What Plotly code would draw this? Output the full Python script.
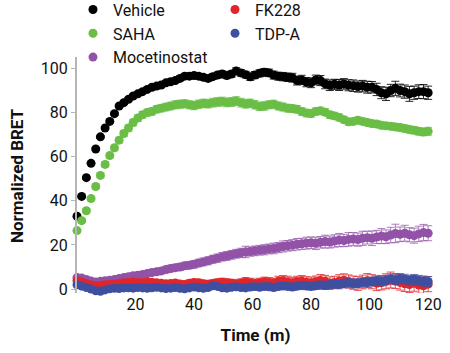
import plotly.graph_objects as go

# time points (minutes), one reading every 1.6 min
time_min = [0, 1.6, 3.2, 4.8, 6.4, 8, 9.6, 11.2, 12.8, 14.4,
            16, 17.6, 19.2, 20.8, 22.4, 24, 25.6, 27.2, 28.8, 30.4,
            32, 33.6, 35.2, 36.8, 38.4, 40, 41.6, 43.2, 44.8, 46.4,
            48, 49.6, 51.2, 52.8, 54.4, 56, 57.6, 59.2, 60.8, 62.4,
            64, 65.6, 67.2, 68.8, 70.4, 72, 73.6, 75.2, 76.8, 78.4,
            80, 81.6, 83.2, 84.8, 86.4, 88, 89.6, 91.2, 92.8, 94.4,
            96, 97.6, 99.2, 100.8, 102.4, 104, 105.6, 107.2, 108.8, 110.4,
            112, 113.6, 115.2, 116.8, 118.4, 120]

vehicle = [33, 42, 50.5, 57, 63.5, 69, 73, 76, 79.5, 83,
           84.5, 86, 87.5, 88.5, 89.5, 90.5, 91.5, 92, 92.5, 93.5,
           94, 94.5, 95.5, 96.5, 96.5, 96.8, 96.5, 96, 95.5, 96.3,
           97, 97.5, 96.8, 97.5, 98.8, 98, 97.2, 96.2, 97, 97.8,
           98.3, 98, 97, 96.5, 96.3, 96, 95.8, 94.5, 94.8, 93.8,
           93.5, 94.8, 94.5, 93, 92.4, 92.8, 92.5, 93, 92.4, 92.2,
           91.8, 92, 91.5, 91.5, 90.5, 89, 88.5, 90, 91, 90,
           89.5, 88.5, 89, 89.5, 89.5, 89]
vehicle_err = [0.4, 0.4, 0.5, 0.5, 0.5, 0.6, 0.6, 0.6, 0.7, 0.7,
               0.7, 0.8, 0.8, 0.8, 0.8, 0.9, 0.9, 0.9, 1.0, 1.0,
               1.0, 1.0, 1.1, 1.1, 1.1, 1.2, 1.2, 1.2, 1.3, 1.3,
               1.3, 1.4, 1.4, 1.4, 1.5, 1.5, 1.5, 1.6, 1.6, 1.6,
               1.7, 1.7, 1.8, 1.8, 1.9, 1.9, 2.0, 2.0, 2.1, 2.1,
               2.2, 2.2, 2.3, 2.2, 2.4, 2.3, 2.5, 2.4, 2.5, 2.6,
               2.5, 2.6, 2.7, 2.6, 2.8, 2.7, 3.0, 2.8, 3.2, 2.9,
               3.0, 3.4, 3.0, 3.1, 3.2, 3.0]

saha = [26.5, 31, 35.5, 41, 46.5, 51.5, 56.5, 60.5, 64, 67.5,
        70.5, 73, 75.5, 77.5, 79, 80, 80.5, 81.5, 82, 82.5,
        83, 83.5, 83.8, 84, 83.5, 83.2, 83.8, 84.2, 84, 84.5,
        84.8, 85, 84.6, 84.8, 85.2, 84.5, 84, 84.2, 83.5, 82.8,
        83, 83.5, 83.8, 83, 82.5, 82, 81.8, 81.5, 80.5, 79.8,
        79.6, 80.5, 80.8, 80.2, 79, 78.5, 77.8, 76.8, 75.8, 76,
        76.5, 76, 75.5, 75, 74.8, 74.2, 74, 73.8, 73.5, 73.2,
        72.8, 72.3, 72, 71.5, 71.2, 71.5]
saha_err = [0.8, 0.9, 1.0, 1.0, 1.1, 1.1, 1.2, 1.2, 1.3, 1.3,
            1.4, 1.4, 1.5, 1.5, 1.5, 1.6, 1.6, 1.6, 1.7, 1.7,
            1.7, 1.8, 1.8, 1.8, 1.8, 1.9, 1.9, 1.9, 1.9, 2.0,
            2.0, 2.0, 2.0, 2.0, 2.0, 2.0, 2.0, 1.9, 1.9, 1.9,
            1.9, 1.8, 1.8, 1.8, 1.8, 1.8, 1.7, 1.7, 1.7, 1.7,
            1.7, 1.6, 1.6, 1.6, 1.6, 1.6, 1.6, 1.5, 1.5, 1.5,
            1.5, 1.5, 1.5, 1.5, 1.5, 1.5, 1.5, 1.5, 1.6, 1.6,
            1.6, 1.6, 1.7, 1.7, 1.7, 1.8]

mocetinostat = [5.2, 5, 4.3, 3.6, 3.2, 3.5, 3.8, 4, 4.3, 4.8,
                5.2, 5.6, 6, 6.3, 6.6, 7, 7.5, 7.8, 8.2, 8.8,
                9.3, 9.7, 10, 10.5, 10.8, 11.2, 11.8, 12.3, 12.8, 13.5,
                14, 14.6, 15, 15.5, 16, 16.4, 16.8, 17, 17.3, 17.6,
                17.8, 18.2, 18.4, 18.8, 19.3, 19.6, 19.9, 20.3, 20.5, 20.8,
                21, 20.7, 21.2, 21.5, 21.3, 21.8, 22.2, 22, 22.5, 22.7,
                22.4, 23, 23.3, 23, 23.6, 24, 23.7, 24.5, 25.2, 24.8,
                25.3, 24.6, 24.2, 25, 25.6, 25.3]
mocetinostat_err = [0.8, 0.8, 0.8, 0.9, 0.9, 0.9, 1.0, 1.0, 1.0, 1.1,
                    1.1, 1.2, 1.2, 1.2, 1.3, 1.3, 1.4, 1.4, 1.4, 1.5,
                    1.5, 1.5, 1.6, 1.6, 1.6, 1.7, 1.7, 1.8, 1.8, 1.8,
                    1.9, 1.9, 2.0, 2.0, 2.0, 2.1, 2.6, 2.1, 2.2, 2.2,
                    2.3, 2.2, 2.4, 2.3, 2.5, 2.4, 2.5, 2.6, 2.5, 2.7,
                    2.6, 2.8, 2.6, 2.9, 2.7, 2.8, 3.0, 2.8, 3.1, 2.9,
                    3.0, 3.2, 2.9, 3.3, 3.0, 3.4, 3.1, 3.5, 4.2, 3.3,
                    3.6, 3.2, 3.4, 3.5, 3.7, 3.4]

fk228 = [3.8, 3.2, 2.5, 1.8, 1.5, 1.6, 1.9, 2.0, 2.2, 2.5,
         2.8, 3.0, 3.2, 3.0, 2.9, 3.3, 3.1, 2.8, 2.6, 2.4,
         2.5, 2.7, 2.3, 2.0, 2.6, 3.0, 2.8, 2.4, 2.2, 2.5,
         2.9, 3.1, 2.8, 2.6, 2.3, 2.7, 3.2, 2.9, 2.5, 2.8,
         3.3, 3.0, 2.7, 3.5, 3.8, 3.2, 2.9, 3.4, 3.6, 3.1,
         2.8, 3.3, 3.9, 3.5, 2.7, 3.0, 3.6, 4.0, 3.4, 2.9,
         2.5, 3.2, 3.8, 3.3, 2.6, 2.9, 3.5, 4.1, 3.6, 3.0,
         2.4, 2.0, 2.6, 1.8, 1.5, 2.2]
fk228_err = [0.6, 0.6, 0.6, 0.7, 0.7, 0.7, 0.8, 0.8, 0.8, 0.9,
             0.9, 1.0, 1.0, 1.0, 1.1, 1.1, 1.2, 1.2, 1.2, 1.3,
             1.3, 1.4, 1.4, 1.4, 1.5, 1.5, 1.6, 1.6, 1.6, 1.7,
             1.7, 1.8, 1.8, 1.8, 1.9, 1.9, 2.0, 2.0, 2.0, 2.1,
             2.1, 2.2, 2.2, 2.3, 2.3, 2.6, 2.4, 2.4, 2.5, 2.5,
             2.6, 2.6, 2.7, 2.7, 2.8, 2.8, 2.9, 2.9, 3.0, 3.0,
             3.1, 3.1, 3.2, 3.2, 3.3, 3.3, 3.4, 3.6, 3.4, 3.5,
             3.5, 3.6, 3.6, 3.7, 3.5, 3.4]

tdpa = [1.9, 1.3, 0.7, 0.0, -0.8, -1.0, -0.4, 0.1, 0.3, 0.2,
        0.5, 0.6, 0.4, 0.7, 0.5, 0.3, 0.6, 0.8, 0.5, 0.2,
        0.4, 0.7, 0.3, 0.1, 0.5, 0.9, 0.6, 0.3, 0.7, 1.5,
        1.2, 0.6, 0.4, 0.8, 1.0, 0.7, 0.5, 0.9, 1.1, 0.8,
        1.2, 1.0, 0.7, 1.1, 1.4, 1.2, 0.9, 1.3, 1.6, 1.4,
        1.2, 1.5, 1.8, 1.6, 1.9, 2.3, 2.0, 2.5, 2.8, 2.4,
        2.7, 3.1, 2.9, 3.4, 3.8, 3.5, 4.0, 4.6, 4.2, 4.8,
        4.5, 4.0, 4.3, 3.9, 3.6, 3.4]
tdpa_err = [0.5, 0.5, 0.5, 0.5, 0.6, 0.6, 0.6, 0.6, 0.7, 0.7,
            0.7, 0.7, 0.8, 0.8, 0.8, 0.8, 0.9, 0.9, 0.9, 0.9,
            1.0, 1.0, 1.0, 1.0, 1.1, 1.1, 1.1, 1.1, 1.2, 1.2,
            1.2, 1.2, 1.3, 1.3, 1.3, 1.3, 1.4, 1.4, 1.4, 1.4,
            1.5, 1.5, 1.5, 1.5, 1.6, 1.6, 1.6, 1.6, 1.7, 1.7,
            1.7, 1.7, 1.8, 1.8, 1.8, 1.8, 1.9, 1.9, 1.9, 1.9,
            2.0, 2.0, 2.0, 2.0, 2.1, 2.1, 2.1, 2.1, 2.2, 2.2,
            2.2, 2.2, 2.3, 2.3, 2.3, 2.3]

series = [
    # name, values, errors, colour, error colour, legend
    ("Vehicle", vehicle, vehicle_err, "#000000", "rgba(0,0,0,0.85)", "legend"),
    ("SAHA", saha, saha_err, "#6abd45", "rgba(106,189,69,0.75)", "legend"),
    ("Mocetinostat", mocetinostat, mocetinostat_err, "#9152a7", "rgba(145,82,167,0.75)", "legend"),
    ("FK228", fk228, fk228_err, "#e0262a", "rgba(224,38,42,0.8)", "legend2"),
    ("TDP-A", tdpa, tdpa_err, "#3f4fa0", "rgba(63,79,160,0.75)", "legend2"),
]

fig = go.Figure()
for rank, (name, vals, errs, col, ecol, leg) in enumerate(series):
    assert len(vals) == len(time_min) == len(errs), name
    fig.add_trace(go.Scatter(
        x=time_min, y=vals, name=name, mode="markers",
        marker=dict(size=9, color=col, line=dict(width=0)),
        error_y=dict(type="data", array=errs, visible=True,
                     color=ecol, thickness=1, width=4),
        legend=leg, legendrank=rank, cliponaxis=False,
    ))

font_main = "Roboto, 'Noto Sans', Arial, sans-serif"

fig.update_layout(
    width=450, height=353,
    margin=dict(l=77, r=16, t=57, b=60, autoexpand=False),
    paper_bgcolor="white", plot_bgcolor="white",
    font=dict(family=font_main, size=16, color="#111111"),
    showlegend=True,
    legend=dict(xref="container", yref="paper", x=73/450, y=1.273,
                xanchor="left", yanchor="top", orientation="v",
                font=dict(size=16, color="#111111"), bgcolor="rgba(0,0,0,0)",
                itemwidth=30, tracegroupgap=0),
    legend2=dict(xref="container", yref="paper", x=215/450, y=1.273,
                 xanchor="left", yanchor="top", orientation="v",
                 font=dict(size=16, color="#111111"), bgcolor="rgba(0,0,0,0)",
                 itemwidth=30, tracegroupgap=0),
    xaxis=dict(range=[0, 122], tickvals=[20, 40, 60, 80, 100, 120],
               showline=False, showgrid=False, zeroline=False, automargin=False,
               ticks="",
               tickfont=dict(size=16, color="#111111"),
               title=dict(text="<b>Time (m)</b>", font=dict(size=17), standoff=16)),
    yaxis=dict(range=[-1.8, 105.2], tickvals=[0, 20, 40, 60, 80, 100],
               showline=True, linecolor="#b5b5b5", linewidth=2,
               showgrid=False, zeroline=False, automargin=False,
               ticks="outside", ticklen=4, tickcolor="#b5b5b5", tickwidth=1,
               tickfont=dict(size=16, color="#111111")),
    annotations=[dict(text="<b>Normalized BRET</b>", textangle=-90,
                      xref="paper", yref="paper", x=(17 - 77) / 357, y=0.5,
                      xanchor="center", yanchor="middle", showarrow=False,
                      font=dict(size=17, color="#111111"))],
)

fig.write_html("out.html")
